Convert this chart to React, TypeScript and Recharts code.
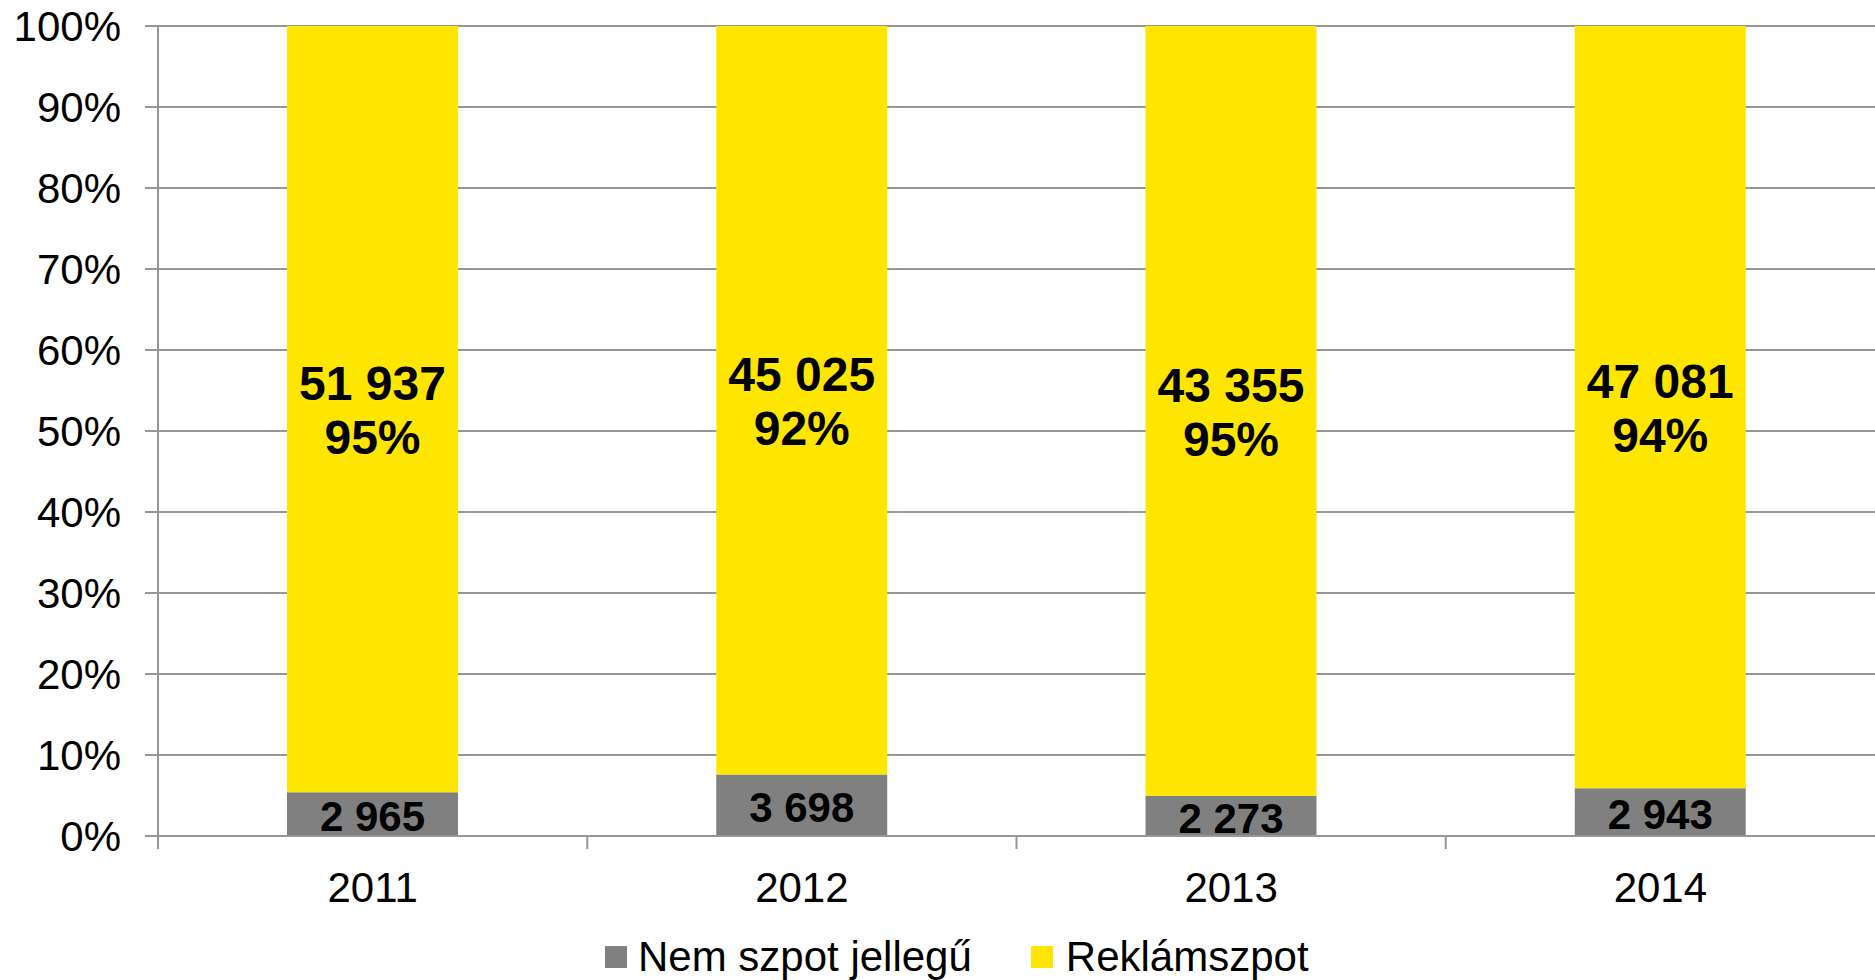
import React from 'react';
import { BarChart, Bar, XAxis, YAxis, CartesianGrid, Legend, LabelList } from 'recharts';

const years = ['2011', '2012', '2013', '2014'];
const nemSzpot = [2965, 3698, 2273, 2943];
const reklamszpot = [51937, 45025, 43355, 47081];
const yTicks = [0, 0.1, 0.2, 0.3, 0.4, 0.5, 0.6, 0.7, 0.8, 0.9, 1];
const seriesNames = { nem: 'Nem szpot jellegű', rek: 'Reklámszpot' };

const YELLOW = '#FFE600';
const GRAY = '#808080';
const GRID = '#979797';
const FONT = '"Liberation Sans", Arial, sans-serif';

const data = years.map((y, i) => ({ year: y, nem: nemSzpot[i], rek: reklamszpot[i] }));

const fmt = (v: number) => String(v).replace(/\B(?=(\d{3})+(?!\d))/g, ' ');

const XTick = (props: any) => {
  const { x, y, payload } = props;
  const off = payload && payload.offset ? payload.offset : 429;
  return (
    <g>
      <line x1={x - off} x2={x - off} y1={y - 13} y2={y} stroke={GRID} strokeWidth={2} />
      <text x={x} y={y + 38} dy="0.355em" textAnchor="middle" fontSize={42} fontFamily={FONT} fill="#000">
        {payload.value}
      </text>
    </g>
  );
};

const YellowLabel = (props: any) => {
  const { x, y, width, height, index } = props;
  const cx = x + width / 2;
  const cy = y + height / 2;
  const total = nemSzpot[index] + reklamszpot[index];
  const pct = Math.round((reklamszpot[index] / total) * 100);
  return (
    <g>
      <text x={cx} y={cy - 26} dy="0.355em" textAnchor="middle" fontSize={48} fontWeight="bold" fontFamily={FONT} fill="#000">
        {fmt(reklamszpot[index])}
      </text>
      <text x={cx} y={cy + 28} dy="0.355em" textAnchor="middle" fontSize={48} fontWeight="bold" fontFamily={FONT} fill="#000">
        {pct + '%'}
      </text>
    </g>
  );
};

const GrayLabel = (props: any) => {
  const { x, y, width, height, index } = props;
  return (
    <text x={x + width / 2} y={y + height / 2 + 2} dy="0.355em" textAnchor="middle" fontSize={42} fontWeight="bold" fontFamily={FONT} fill="#000">
      {fmt(nemSzpot[index])}
    </text>
  );
};

const LegendContent = () => (
  <div style={{ height: 74, width: 1875, position: 'relative', fontFamily: FONT, fontSize: 42, color: '#000' }}>
    <div style={{ position: 'absolute', left: 605, top: 28, height: 46, display: 'flex', alignItems: 'center', whiteSpace: 'nowrap' }}>
      <span style={{ display: 'inline-block', width: 22, height: 22, background: GRAY, marginRight: 11 }} />
      <span style={{ marginRight: 59 }}>{seriesNames.nem}</span>
      <span style={{ display: 'inline-block', width: 22, height: 22, background: YELLOW, marginRight: 13 }} />
      <span>{seriesNames.rek}</span>
    </div>
  </div>
);

export default function App() {
  return (
    <div style={{ position: 'absolute', left: 0, top: 0, width: 1875, height: 980, background: '#fff' }}>
      <BarChart
        width={1875}
        height={980}
        data={data}
        stackOffset="expand"
        margin={{ top: 26, right: 0, left: 0, bottom: 0 }}
        barSize={171}
      >
        <CartesianGrid horizontal={true} vertical={false} stroke={GRID} strokeWidth={2} />
        <XAxis
          dataKey="year"
          height={70}
          axisLine={{ stroke: GRID, strokeWidth: 2 }}
          tickLine={false}
          tickSize={13}
          tickMargin={0}
          tick={<XTick />}
          interval={0}
        />
        <YAxis
          width={158}
          domain={[0, 1]}
          ticks={yTicks}
          tickFormatter={(v: number) => Math.round(v * 100) + '%'}
          axisLine={{ stroke: GRID, strokeWidth: 2 }}
          tickLine={{ stroke: GRID, strokeWidth: 2 }}
          tickSize={13}
          tickMargin={24}
          tick={{ fontSize: 42, fontFamily: FONT, fill: '#000' }}
          interval={0}
        />
        <Legend verticalAlign="bottom" content={<LegendContent />} wrapperStyle={{ left: 0, width: 1875 }} />
        <Bar dataKey="nem" name={seriesNames.nem} stackId="a" fill={GRAY} isAnimationActive={false}>
          <LabelList dataKey="nem" content={<GrayLabel />} />
        </Bar>
        <Bar dataKey="rek" name={seriesNames.rek} stackId="a" fill={YELLOW} isAnimationActive={false}>
          <LabelList dataKey="rek" content={<YellowLabel />} />
        </Bar>
      </BarChart>
    </div>
  );
}
